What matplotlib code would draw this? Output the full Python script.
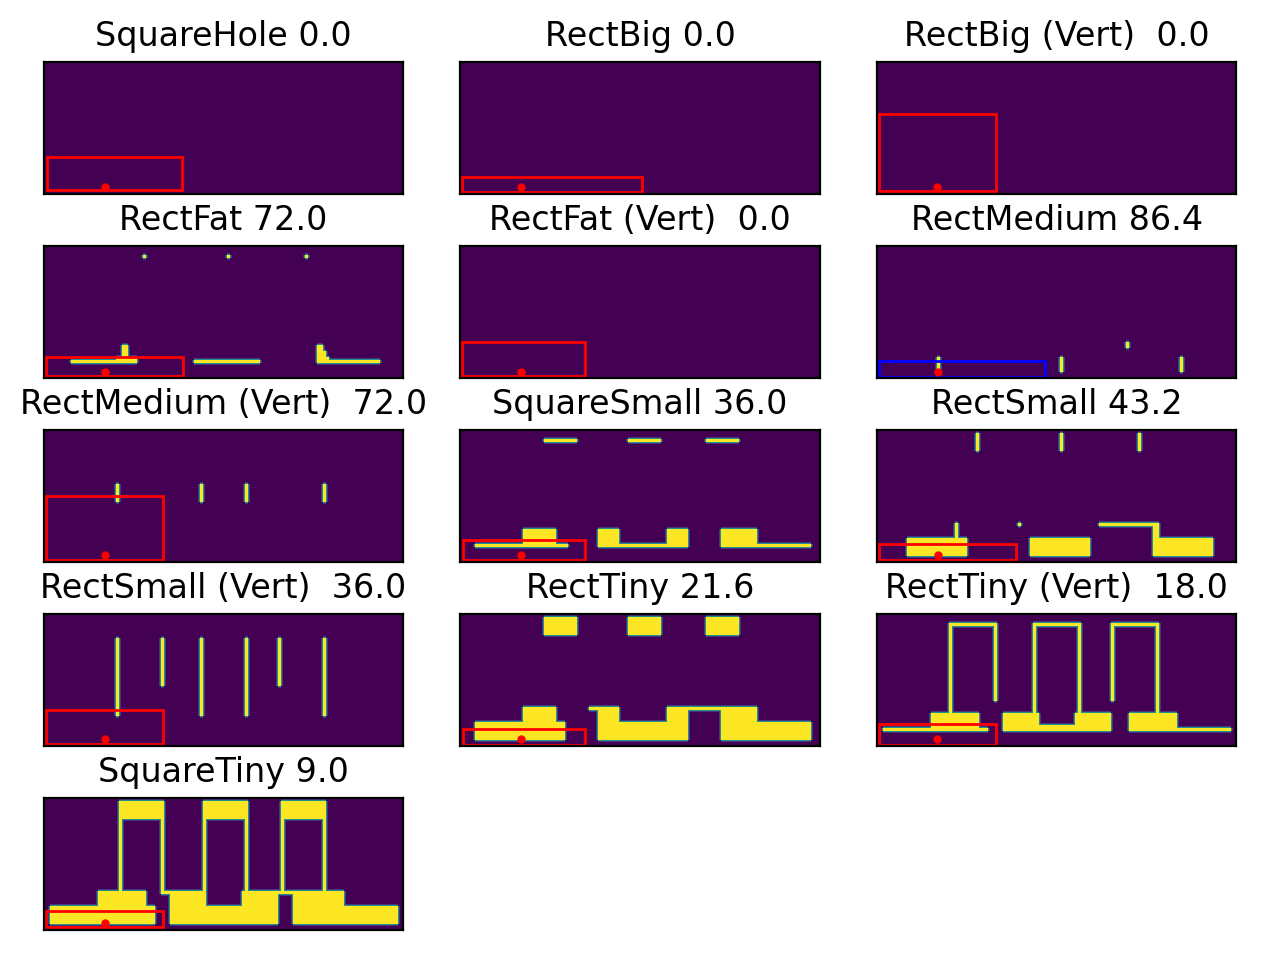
import numpy as np
import matplotlib
matplotlib.use('Agg')
import matplotlib.pyplot as plt
from matplotlib.patches import Rectangle

W, H = 120, 44
SUB = 3  # pixels per cell in the rendered grid
glow = [(1, 0.5), (2, 0.15)]  # soft edge around filled cells: (distance, level)

names = ['SquareHole', 'RectBig', 'RectBig (Vert) ', 'RectFat', 'RectFat (Vert) ',
         'RectMedium', 'RectMedium (Vert) ', 'SquareSmall', 'RectSmall',
         'RectSmall (Vert) ', 'RectTiny', 'RectTiny (Vert) ', 'SquareTiny']
scores = [0.0, 0.0, 0.0, 72.0, 0.0, 86.4, 72.0, 36.0, 43.2, 36.0, 21.6, 18.0, 9.0]

# filled cells per panel: (col0, row0, col1, row1)
square_hole = []
rect_big = []
rect_big_vert = []
rect_fat = [(33, 3, 34, 4), (61, 3, 62, 4), (87, 3, 88, 4),
            (9, 38, 31, 39), (24, 37, 31, 39), (26, 33, 28, 37),
            (50, 38, 72, 39),
            (91, 33, 93, 39), (93, 35, 94, 39), (94, 37, 95, 39), (94, 38, 112, 39)]
rect_fat_vert = []
rect_medium = [(20, 37, 21, 42), (61, 37, 62, 42), (83, 32, 84, 34), (101, 37, 102, 42)]
rect_medium_vert = [(24, 18, 25, 24), (52, 18, 53, 24), (67, 18, 68, 24), (93, 18, 94, 24)]
square_small = [(28, 3, 39, 4), (56, 3, 67, 4), (82, 3, 93, 4),
                (5, 38, 36, 39), (21, 33, 32, 39),
                (46, 33, 53, 39), (53, 38, 69, 39), (69, 33, 76, 39),
                (87, 33, 99, 39), (99, 38, 117, 39)]
rect_small = [(33, 1, 34, 7), (61, 1, 62, 7), (87, 1, 88, 7), (47, 31, 48, 32),
              (10, 36, 30, 42), (26, 31, 27, 36),
              (51, 36, 71, 42),
              (74, 31, 94, 32), (92, 31, 94, 42), (92, 36, 112, 42)]
rect_small_vert = [(24, 8, 25, 34), (39, 8, 40, 24), (52, 8, 53, 34),
                   (67, 8, 68, 34), (78, 8, 79, 24), (93, 8, 94, 34)]
rect_tiny = [(28, 1, 39, 7), (56, 1, 67, 7), (82, 1, 93, 7),
             (5, 36, 35, 42), (21, 31, 32, 36),
             (43, 31, 46, 32), (46, 31, 53, 42), (53, 36, 69, 42), (69, 31, 76, 42),
             (76, 31, 87, 32), (87, 31, 99, 42), (99, 36, 117, 42)]
rect_tiny_vert = [(24, 3, 40, 4), (52, 3, 68, 4), (78, 3, 94, 4),
                  (24, 3, 25, 33), (39, 3, 40, 29), (52, 3, 53, 33),
                  (67, 3, 68, 33), (78, 3, 79, 29), (93, 3, 94, 33),
                  (2, 38, 37, 39), (18, 33, 34, 39),
                  (42, 33, 54, 39), (54, 37, 66, 39), (66, 33, 78, 39),
                  (84, 33, 100, 39), (100, 38, 118, 39)]
square_tiny = [(25, 1, 40, 7), (53, 1, 68, 7), (79, 1, 94, 7),
               (25, 7, 26, 31), (39, 7, 40, 31), (53, 7, 54, 31),
               (67, 7, 68, 31), (79, 7, 80, 31), (93, 7, 94, 31),
               (2, 36, 37, 42), (18, 31, 34, 42),
               (39, 31, 42, 32), (42, 31, 54, 42), (54, 36, 66, 42), (66, 31, 78, 42),
               (78, 31, 83, 32), (83, 31, 100, 42), (100, 36, 118, 42)]

cells = [square_hole, rect_big, rect_big_vert, rect_fat, rect_fat_vert,
         rect_medium, rect_medium_vert, square_small, rect_small,
         rect_small_vert, rect_tiny, rect_tiny_vert, square_tiny]

# piece outline (x0, y0, x1, y1) and marker position
boxes = [(1.0, 31.7, 46.3, 42.7), (0.7, 38.2, 60.7, 43.2), (0.7, 17.2, 39.9, 42.9),
         (0.8, 36.8, 46.5, 43.3), (0.7, 32.0, 41.6, 43.3), (0.7, 38.4, 56.1, 43.6),
         (0.8, 21.9, 40.0, 43.3), (0.8, 36.7, 41.7, 43.3), (0.7, 38.1, 46.4, 43.3),
         (0.8, 31.9, 40.0, 43.2), (0.8, 38.4, 41.7, 43.6), (0.6, 36.8, 39.8, 43.6),
         (0.8, 37.8, 40.0, 43.1)]
box_colors = ['red'] * 5 + ['blue'] + ['red'] * 7
dot_x = [20.4, 20.1, 20.1, 20.4, 20.1, 20.3, 20.4, 20.4, 20.3, 20.4, 20.4, 20.2, 20.4]
dot_y = [41.5, 41.5, 41.5, 41.8, 41.8, 41.8, 41.6, 41.6, 41.5, 41.8, 41.8, 41.8, 41.5]


def add_glow(g):
    out = g.copy()
    for d, level in glow:
        for axis in (0, 1):
            for s in (d, -d):
                out = np.maximum(out, level * np.roll(g, s, axis=axis))
    return out


fig, axes = plt.subplots(5, 3, figsize=(6.4, 4.8), dpi=200)
for i, ax in enumerate(axes.flat):
    if i >= len(names):
        ax.axis('off')
        continue
    grid = np.zeros((H * SUB, W * SUB))
    for c0, r0, c1, r1 in cells[i]:
        grid[r0 * SUB:r1 * SUB, c0 * SUB:c1 * SUB] = 1
    ax.imshow(add_glow(grid), extent=(0, W, H, 0), vmin=0, vmax=1,
              interpolation='antialiased', interpolation_stage='data')
    x0, y0, x1, y1 = boxes[i]
    ax.add_patch(Rectangle((x0, y0), x1 - x0, y1 - y0, fill=False, edgecolor=box_colors[i]))
    ax.plot(dot_x[i], dot_y[i], 'o', color='red', markersize=2)
    ax.set_xticks([])
    ax.set_yticks([])
    ax.set_title(names[i] + ' ' + str(scores[i]))

plt.tight_layout()
plt.savefig('out.png')
